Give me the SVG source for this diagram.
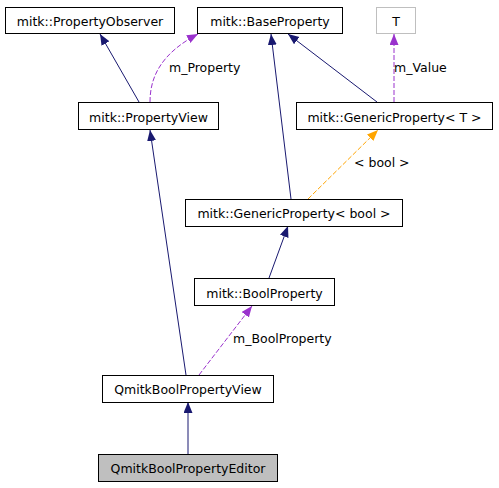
<svg xmlns="http://www.w3.org/2000/svg" width="499" height="488" viewBox="0 0 499 488">
<style>
text{font-family:"DejaVu Sans","Liberation Sans",sans-serif;font-size:12.5px;fill:#000}
.n{fill:#fff;stroke:#000;stroke-width:1}
.c{text-anchor:middle}
.e{fill:none;stroke:#191970;stroke-width:1}
.d{fill:none;stroke:#9a32cd;stroke-width:1;stroke-dasharray:5,2}
.o{fill:none;stroke:#ffa500;stroke-width:1;stroke-dasharray:5,2}
</style>
<defs>
<marker id="an" markerUnits="userSpaceOnUse" markerWidth="12" markerHeight="10" refX="11" refY="4.5" orient="auto"><path d="M0,0 L11,4.5 L0,9 z" fill="#191970"/></marker>
<marker id="ap" markerUnits="userSpaceOnUse" markerWidth="12" markerHeight="10" refX="11" refY="4.5" orient="auto"><path d="M0,0 L11,4.5 L0,9 z" fill="#9a32cd"/></marker>
<marker id="ao" markerUnits="userSpaceOnUse" markerWidth="12" markerHeight="10" refX="11" refY="4.5" orient="auto"><path d="M0,0 L11,4.5 L0,9 z" fill="#ffa500"/></marker>
</defs>
<rect width="499" height="488" fill="#fff"/>
<g id="edges">
<path class="e" d="M139,102 L100,34" marker-end="url(#an)"/>
<path class="d" d="M150,102 C150,78 160,54 198,34" marker-end="url(#ap)"/>
<text x="169" y="72">m_Property</text>
<path class="e" d="M377,102 L288,34" marker-end="url(#an)"/>
<path class="e" d="M291,199 L271,34" marker-end="url(#an)"/>
<path class="d" d="M394,102 L394,34" marker-end="url(#ap)"/>
<text x="394" y="72">m_Value</text>
<path class="o" d="M308,199 L378,130" marker-end="url(#ao)"/>
<text x="354" y="167">&lt; bool &gt;</text>
<path class="e" d="M269,278 L288,226" marker-end="url(#an)"/>
<path class="e" d="M186,375 L150,130" marker-end="url(#an)"/>
<path class="d" d="M199,375 L252,306" marker-end="url(#ap)"/>
<text x="233" y="343">m_BoolProperty</text>
<path class="e" d="M188,454 L188,402" marker-end="url(#an)"/>
</g>
<g id="PropertyObserver"><rect class="n" x="5.5" y="7.5" width="169" height="26"/><text class="c" x="90" y="25.5">mitk::PropertyObserver</text></g>
<g id="BaseProperty"><rect class="n" x="197.5" y="7.5" width="145" height="26"/><text class="c" x="270" y="25.5">mitk::BaseProperty</text></g>
<g id="T"><rect class="n" x="376.5" y="7.5" width="39" height="26" style="stroke:#bfbfbf"/><text class="c" x="396" y="25.5">T</text></g>
<g id="PropertyView"><rect class="n" x="78.5" y="102.5" width="140" height="27"/><text class="c" x="148.5" y="121.5">mitk::PropertyView</text></g>
<g id="GenericPropertyT"><rect class="n" x="296.5" y="102.5" width="196" height="27"/><text class="c" x="394.5" y="121.5">mitk::GenericProperty&lt; T &gt;</text></g>
<g id="GenericPropertyBool"><rect class="n" x="185.5" y="199.5" width="217" height="27"/><text class="c" x="294" y="218">mitk::GenericProperty&lt; bool &gt;</text></g>
<g id="BoolProperty"><rect class="n" x="194.5" y="278.5" width="140" height="27"/><text class="c" x="264.5" y="297.5">mitk::BoolProperty</text></g>
<g id="QmitkBoolPropertyView"><rect class="n" x="102.5" y="375.5" width="171" height="27"/><text class="c" x="188" y="394">QmitkBoolPropertyView</text></g>
<g id="QmitkBoolPropertyEditor"><rect class="n" x="98.5" y="454.5" width="179" height="27" style="fill:#bfbfbf"/><text class="c" x="188" y="473">QmitkBoolPropertyEditor</text></g>
</svg>
